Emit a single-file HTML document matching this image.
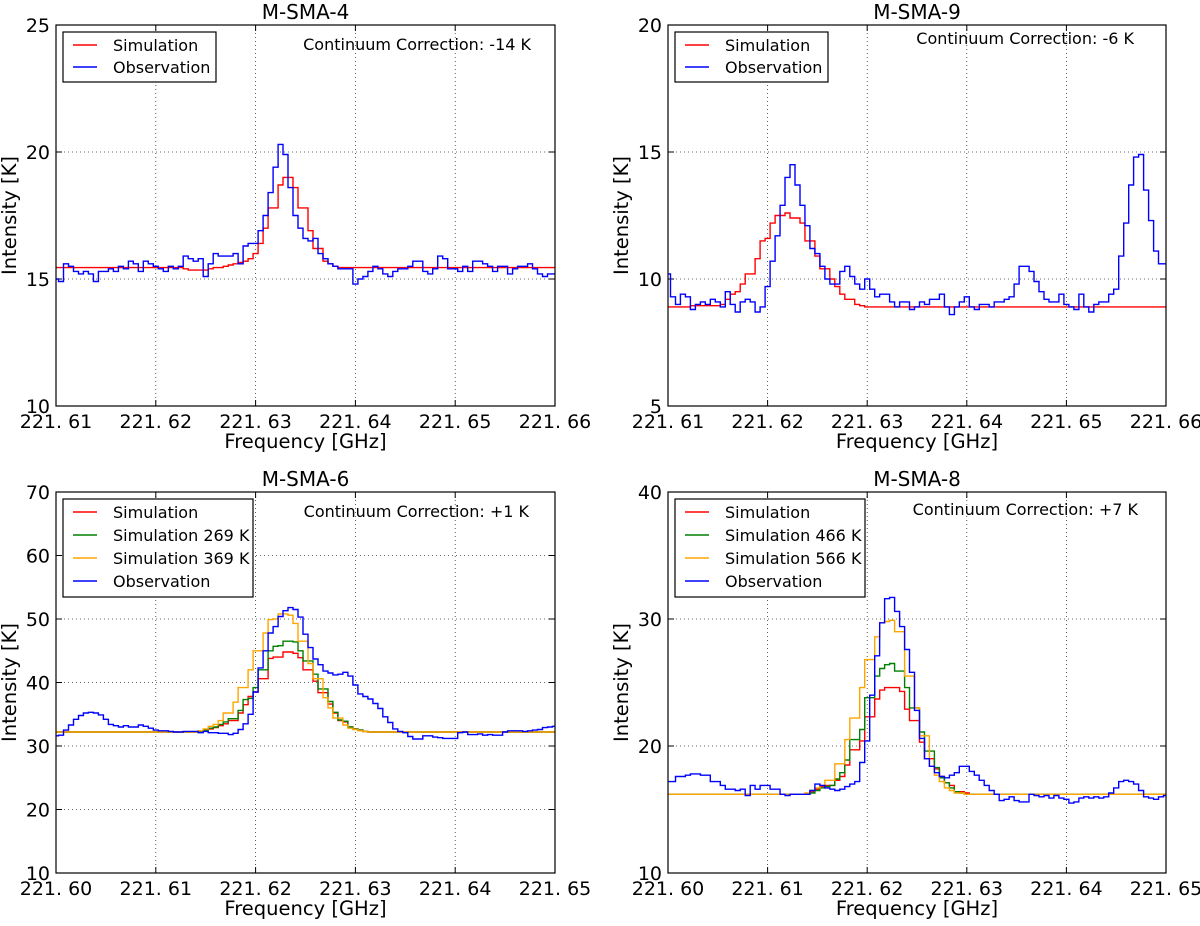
<!DOCTYPE html>
<html><head><meta charset="utf-8"><style>
html,body{margin:0;padding:0;background:#fff;}
svg{display:block;font-family:"DejaVu Sans","Liberation Sans",sans-serif;}
</style></head><body>
<svg id="fig" width="1200" height="926" viewBox="0 0 1200 926" xmlns="http://www.w3.org/2000/svg"></svg>
<script>
// ---------- data ----------
const binWidth = 0.0005;
// M-SMA-4
const sma4ObsStart = 221.61;
const sma4Obs = [15.0,14.9,15.6,15.5,15.3,15.2,15.3,15.2,14.9,15.3,
 15.3,15.4,15.3,15.5,15.4,15.7,15.6,15.3,15.7,15.6,
 15.5,15.4,15.3,15.5,15.4,15.5,15.9,15.8,15.7,15.8,
 15.1,15.6,16.0,15.9,15.9,15.9,16.0,15.6,16.3,16.4,
 16.4,16.9,17.5,18.4,19.4,20.3,19.9,18.6,17.5,17.0,
 16.6,16.5,16.6,16.0,15.8,15.6,15.5,15.4,15.4,15.4,
 14.8,15.0,15.1,15.3,15.5,15.4,15.2,15.1,15.3,15.4,
 15.4,15.5,15.7,15.7,15.3,15.2,15.4,15.9,15.8,15.4,
 15.4,15.3,15.5,15.3,15.7,15.7,15.6,15.5,15.3,15.5,
 15.5,15.2,15.4,15.5,15.5,15.6,15.4,15.2,15.1,15.2,15.2];
const sma4SimBase = 15.45;
const sma4SimStart = 221.623;
const sma4Sim = [15.4,15.35,15.35,15.35,15.35,15.4,15.45,15.45,15.5,15.55,15.6,15.65,15.7,15.8,16.0,16.4,17.0,17.8,17.8,18.7,19.0,19.0,18.6,17.8,17.8,16.9,16.2,16.2,15.7,15.6,15.5,15.45];
// M-SMA-9
const sma9ObsStart = 221.61;
const sma9Obs = [10.2,9.3,9.0,9.4,9.3,8.8,9.0,9.1,9.0,9.2,
 9.1,8.9,9.5,9.0,8.7,9.1,9.2,9.1,8.7,8.9,
 9.7,10.7,11.7,12.9,14.0,14.5,13.7,12.9,12.1,11.2,
 11.0,10.5,10.0,9.8,9.8,10.3,10.5,10.1,9.8,9.6,
 10.0,9.6,9.3,9.4,9.4,9.1,8.9,9.1,9.1,8.8,
 8.9,9.1,9.0,9.2,9.2,9.4,8.9,8.6,8.9,9.1,
 9.3,8.9,8.8,9.0,9.0,8.9,9.1,9.1,9.2,9.3,
 9.8,10.5,10.5,10.3,9.9,9.5,9.2,9.1,9.1,9.4,
 9.0,8.9,8.8,9.4,8.9,8.7,9.0,9.1,9.1,9.4,
 9.6,10.9,12.2,13.7,14.8,14.9,13.5,12.3,11.1,10.6,10.6];
const sma9SimBase = 8.9;
const sma9SimStart = 221.6125;
const sma9Sim = [8.95,8.95,8.95,8.95,8.95,8.95,9.0,9.2,9.4,9.5,9.8,10.2,10.2,10.8,11.5,11.6,12.2,12.5,12.5,12.6,12.4,12.4,12.2,11.5,11.5,10.9,10.4,10.4,10.0,9.7,9.4,9.2,9.2,9.0,8.95,8.9];
// M-SMA-6
const sma6ObsStart = 221.60;
const sma6Obs = [31.6,31.7,32.5,33.3,34.2,34.8,35.2,35.3,35.2,34.9,
 34.2,33.4,33.2,33.0,33.2,33.0,33.0,33.3,33.1,32.8,
 32.5,32.4,32.4,32.3,32.2,32.2,32.3,32.3,32.3,32.1,
 32.3,32.1,32.1,32.0,32.0,31.8,32.0,32.6,33.5,35.0,
 38.5,42.3,45.0,47.8,48.8,50.4,51.3,51.8,51.5,50.3,
 47.6,45.5,43.7,42.8,41.8,41.5,41.2,41.3,41.6,41.0,
 39.6,38.2,37.8,37.4,36.7,35.9,34.6,33.7,32.7,32.3,
 32.1,31.5,31.1,31.1,31.6,31.6,31.4,31.3,31.2,31.2,
 31.2,32.1,32.2,31.8,31.8,31.9,31.7,31.8,31.7,31.7,
 32.2,32.4,32.4,32.4,32.3,32.4,32.5,32.6,32.9,33.0,33.1];
const sma6SimBase = 32.2;
const sma6SimStart = 221.6145;
const sma6SimRed = [32.3,32.5,32.7,32.9,33.2,33.5,34.0,34.0,35.2,36.5,37.8,38.5,40.6,40.6,43.8,44.0,44.0,44.8,44.8,44.6,43.9,42.0,42.0,40.2,38.4,38.4,36.6,35.2,34.0,33.8,33.0,32.7,32.5,32.3];
const sma6SimGreen = [32.3,32.5,32.8,33.0,33.4,33.8,34.3,34.3,35.6,37.3,37.5,39.2,42.0,42.0,45.0,45.7,45.8,46.5,46.5,46.4,45.0,43.4,43.4,41.3,39.0,39.0,37.0,35.3,34.1,33.9,33.0,32.7,32.5,32.3];
const sma6SimOrange = [32.4,32.7,33.1,33.4,34.0,35.2,35.2,36.9,39.2,39.2,42.0,45.0,45.0,47.8,49.9,50.0,50.8,50.8,50.6,49.3,46.5,46.5,43.0,40.6,40.6,37.6,36.0,34.4,34.4,33.3,32.8,32.6,32.4,32.3];
// M-SMA-8
const sma8ObsStart = 221.60;
const sma8Obs = [17.2,17.2,17.6,17.6,17.7,17.8,17.8,17.7,17.7,17.2,
 17.2,16.9,16.6,16.6,16.5,16.6,16.1,16.9,16.6,16.9,
 16.9,16.6,16.6,16.2,16.1,16.2,16.2,16.2,16.2,16.5,
 17.0,16.9,16.7,16.6,16.5,16.6,16.8,17.0,17.2,18.7,
 20.4,24.0,27.1,29.7,31.6,31.7,30.6,29.4,27.6,25.8,
 22.8,20.6,19.0,18.4,17.9,17.6,17.5,17.7,17.9,18.4,
 18.4,18.0,17.7,17.3,16.9,16.5,16.2,15.7,15.8,16.0,
 15.7,15.6,15.6,16.2,16.1,16.0,16.1,15.9,16.1,15.9,
 15.8,15.5,15.6,15.9,16.0,15.9,16.0,15.9,16.0,16.3,
 16.7,17.2,17.3,17.2,17.0,16.5,16.0,15.9,15.8,16.0,16.1];
const sma8SimBase = 16.2;
const sma8SimStart = 221.614;
const sma8SimRed = [16.2,16.4,16.6,16.8,16.9,16.9,17.3,17.6,18.5,19.7,19.7,20.4,22.3,22.3,23.7,24.4,24.6,24.6,24.6,24.3,22.9,22.0,22.0,20.3,19.0,19.0,18.2,17.6,17.1,16.9,16.4,16.4,16.3];
const sma8SimGreen = [16.2,16.3,16.5,16.7,16.8,16.9,17.4,17.9,18.9,20.5,20.5,21.3,23.8,23.8,25.5,26.1,26.4,26.5,25.9,25.9,24.6,23.0,23.0,21.1,19.6,19.6,18.3,17.5,17.1,16.7,16.4,16.3,16.2];
const sma8SimOrange = [16.3,16.5,16.7,16.9,17.3,17.3,18.6,18.6,20.5,22.2,22.2,24.6,26.8,26.8,28.6,29.7,29.8,29.9,29.0,29.0,25.5,25.5,23.0,20.8,20.8,18.4,17.7,17.2,16.7,16.5,16.3,16.3,16.2];
// ticks
const topXTicks = [221.61,221.62,221.63,221.64,221.65,221.66];
const topXLabels = ["221. 61","221. 62","221. 63","221. 64","221. 65","221. 66"];
const botXTicks = [221.60,221.61,221.62,221.63,221.64,221.65];
const botXLabels = ["221. 60","221. 61","221. 62","221. 63","221. 64","221. 65"];
const sma4YTicks = [10,15,20,25];
const sma9YTicks = [5,10,15,20];
const sma6YTicks = [10,20,30,40,50,60,70];
const sma8YTicks = [10,20,30,40];

// ---------- drawing ----------
const NS = "http://www.w3.org/2000/svg";
const svg = document.getElementById('fig');
function mk(tag, attrs, parent){ const e=document.createElementNS(NS,tag); for(const k in attrs) e.setAttribute(k,attrs[k]); (parent||svg).appendChild(e); return e; }
let clipId=0;

function panel(cfg){
  const g = mk('g',{});
  
  
  const X = f => cfg.x0 + (f-cfg.xmin)/(cfg.xmax-cfg.xmin)*cfg.w;
  const Y = v => cfg.y0 + cfg.h - (v-cfg.ymin)/(cfg.ymax-cfg.ymin)*cfg.h;
  const cid = 'clip'+(clipId++);
  const cp = mk('clipPath',{id:cid},g);
  mk('rect',{x:cfg.x0,y:cfg.y0,width:cfg.w,height:cfg.h},cp);
  cfg.xticks.forEach((t,i)=>{
    const x=X(t);
    if(i>0 && i<cfg.xticks.length-1){ const l=mk('line',{x1:x,x2:x,y1:cfg.y0,y2:cfg.y0+cfg.h,stroke:'#000','stroke-width':0.8,'stroke-dasharray':'1,3',opacity:0.8},g);   }
    mk('line',{x1:x,x2:x,y1:cfg.y0+cfg.h,y2:cfg.y0+cfg.h-6,stroke:'#000','stroke-width':1},g);
    mk('line',{x1:x,x2:x,y1:cfg.y0,y2:cfg.y0+6,stroke:'#000','stroke-width':1},g);
    const tx=mk('text',{x:x,y:cfg.y0+cfg.h+22,'text-anchor':'middle','font-size':19},g);
    tx.textContent=cfg.xlabels[i];
     
  });
  cfg.yticks.forEach((t,i)=>{
    const y=Y(t);
    if(i>0 && i<cfg.yticks.length-1){ const l=mk('line',{x1:cfg.x0,x2:cfg.x0+cfg.w,y1:y,y2:y,stroke:'#000','stroke-width':0.8,'stroke-dasharray':'1,3',opacity:0.8},g);   }
    mk('line',{x1:cfg.x0,x2:cfg.x0+6,y1:y,y2:y,stroke:'#000','stroke-width':1},g);
    mk('line',{x1:cfg.x0+cfg.w,x2:cfg.x0+cfg.w-6,y1:y,y2:y,stroke:'#000','stroke-width':1},g);
    const tx=mk('text',{x:cfg.x0-6,y:y+7,'text-anchor':'end','font-size':19},g);
    tx.textContent=String(t);
     
  });
  function steps(start, vals, color, base, name){
    let pts=[];
    if(base!==undefined) pts.push([X(cfg.xmin), Y(base)], [X(start-binWidth/2), Y(base)]);
    vals.forEach((v,i)=>{
      const f=start+i*binWidth;
      pts.push([X(f-binWidth/2),Y(v)],[X(f+binWidth/2),Y(v)]);
    });
    if(base!==undefined){ const fe=start+(vals.length-0.5)*binWidth; pts.push([X(fe),Y(base)],[X(cfg.xmax),Y(base)]); }
    const p=mk('path',{d:'M'+pts.map(p=>p[0].toFixed(1)+','+p[1].toFixed(1)).join('L'),fill:'none',stroke:color,'stroke-width':1.4,'clip-path':'url(#'+cid+')'},g);
    
    
  }
  cfg.series.forEach(s=>steps(s.start,s.vals,s.color,s.base,s.name));
  const fr=mk('rect',{x:cfg.x0,y:cfg.y0,width:cfg.w,height:cfg.h,fill:'none',stroke:'#000','stroke-width':1.2},g);
   
  const t=mk('text',{x:cfg.x0+cfg.w/2,y:cfg.y0-6,'text-anchor':'middle','font-size':20},g);
  t.textContent=cfg.title;  
  const xl=mk('text',{x:cfg.x0+cfg.w/2,y:cfg.y0+cfg.h+42,'text-anchor':'middle','font-size':19.5},g);
  xl.textContent='Frequency [GHz]';  
  const yx=cfg.x0-40, yy=cfg.y0+cfg.h/2;
  const yl=mk('text',{x:yx,y:yy,'text-anchor':'middle','font-size':19.5,transform:'rotate(-90 '+yx+' '+yy+')'},g);
  yl.textContent='Intensity [K]';  
  const ct=mk('text',{x:cfg.x0+cfg.w-cfg.corrR,y:cfg.y0+cfg.corrY,'text-anchor':'end','font-size':16},g);
  ct.textContent=cfg.corr;  
  const lg=mk('g',{},g);
   
  const lh=cfg.legend.length>2?23:22, lw=cfg.legendW;
  mk('rect',{x:cfg.x0+7,y:cfg.y0+7,width:lw,height:lh*cfg.legend.length+6,fill:'#fff',stroke:'#000','stroke-width':1.2},lg);
  cfg.legend.forEach((e,i)=>{
    const y=cfg.y0+7+13+i*lh;
    const ent=mk('g',{},lg);
     
    mk('line',{x1:cfg.x0+17,x2:cfg.x0+41,y1:y,y2:y,stroke:e[1],'stroke-width':1.4},ent);
    const tx=mk('text',{x:cfg.x0+57,y:y+6,'font-size':16},ent);
    tx.textContent=e[0];
  });
}

panel({name:'panel-m-sma-4',title:'M-SMA-4',x0:56,y0:25,w:499,h:381,xmin:221.61,xmax:221.66,ymin:10,ymax:25,
  xticks:topXTicks,xlabels:topXLabels,yticks:sma4YTicks,corr:'Continuum Correction: -14 K',corrY:25,corrR:24,legendW:153,
  legend:[['Simulation','#ff0000'],['Observation','#0000ff']],
  series:[{start:sma4SimStart,vals:sma4Sim,base:sma4SimBase,color:'#ff0000',name:'simulation-line'},
          {start:sma4ObsStart,vals:sma4Obs,color:'#0000ff',name:'observation-line'}]});
panel({name:'panel-m-sma-9',title:'M-SMA-9',x0:668,y0:25,w:498,h:381,xmin:221.61,xmax:221.66,ymin:5,ymax:20,
  xticks:topXTicks,xlabels:topXLabels,yticks:sma9YTicks,corr:'Continuum Correction: -6 K',corrY:19,corrR:32,legendW:153,
  legend:[['Simulation','#ff0000'],['Observation','#0000ff']],
  series:[{start:sma9SimStart,vals:sma9Sim,base:sma9SimBase,color:'#ff0000',name:'simulation-line'},
          {start:sma9ObsStart,vals:sma9Obs,color:'#0000ff',name:'observation-line'}]});
panel({name:'panel-m-sma-6',title:'M-SMA-6',x0:56,y0:492,w:499,h:381,xmin:221.60,xmax:221.65,ymin:10,ymax:70,
  xticks:botXTicks,xlabels:botXLabels,yticks:sma6YTicks,corr:'Continuum Correction: +1 K',corrY:25,corrR:26,legendW:190,
  legend:[['Simulation','#ff0000'],['Simulation 269 K','#008000'],['Simulation 369 K','#ffa500'],['Observation','#0000ff']],
  series:[{start:sma6SimStart,vals:sma6SimRed,base:sma6SimBase,color:'#ff0000',name:'simulation-line'},
          {start:sma6SimStart,vals:sma6SimGreen,base:sma6SimBase,color:'#008000',name:'simulation-269k-line'},
          {start:sma6SimStart,vals:sma6SimOrange,base:sma6SimBase,color:'#ffa500',name:'simulation-369k-line'},
          {start:sma6ObsStart,vals:sma6Obs,color:'#0000ff',name:'observation-line'}]});
panel({name:'panel-m-sma-8',title:'M-SMA-8',x0:668,y0:492,w:498,h:381,xmin:221.60,xmax:221.65,ymin:10,ymax:40,
  xticks:botXTicks,xlabels:botXLabels,yticks:sma8YTicks,corr:'Continuum Correction: +7 K',corrY:23,corrR:28,legendW:190,
  legend:[['Simulation','#ff0000'],['Simulation 466 K','#008000'],['Simulation 566 K','#ffa500'],['Observation','#0000ff']],
  series:[{start:sma8SimStart,vals:sma8SimRed,base:sma8SimBase,color:'#ff0000',name:'simulation-line'},
          {start:sma8SimStart,vals:sma8SimGreen,base:sma8SimBase,color:'#008000',name:'simulation-466k-line'},
          {start:sma8SimStart,vals:sma8SimOrange,base:sma8SimBase,color:'#ffa500',name:'simulation-566k-line'},
          {start:sma8ObsStart,vals:sma8Obs,color:'#0000ff',name:'observation-line'}]});
</script>
</body></html>
